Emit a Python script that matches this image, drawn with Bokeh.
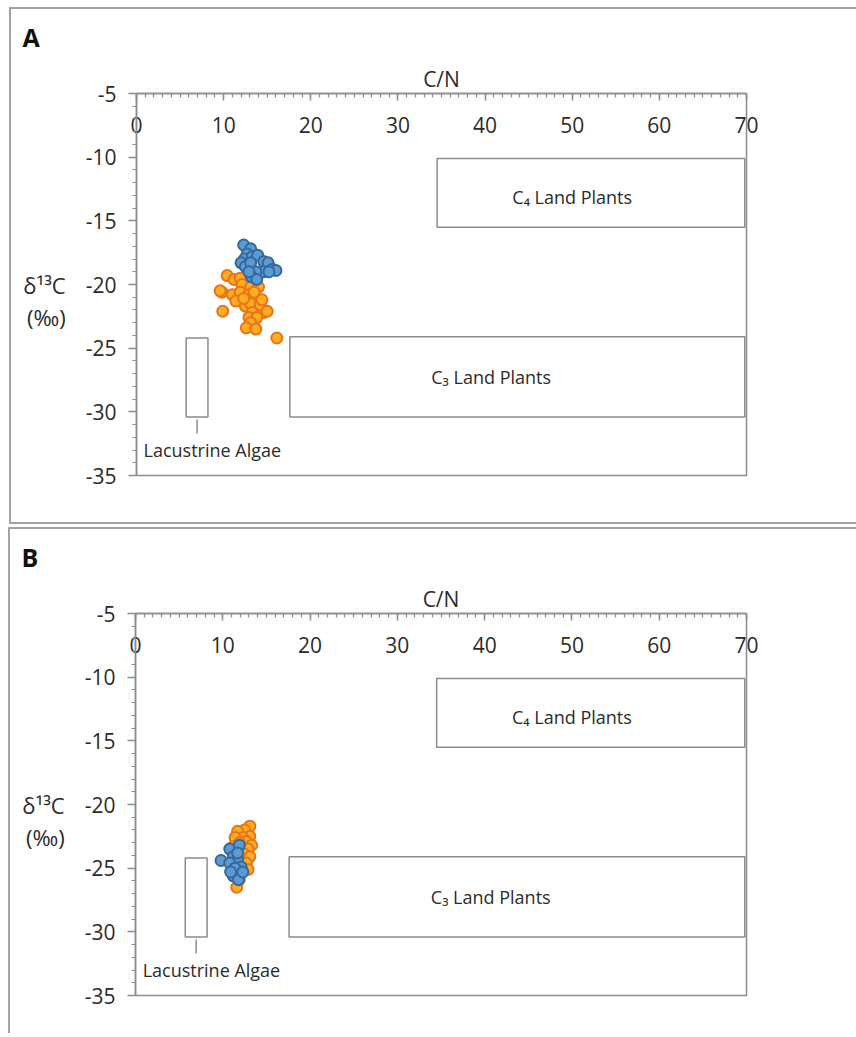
from bokeh.plotting import figure
from bokeh.models import Range1d, FixedTicker, PrintfTickFormatter
from bokeh.layouts import column
from bokeh.embed import file_html
from bokeh.resources import INLINE
from bokeh.core.properties import value

# ---------------- data ----------------
x_ticks = [0, 10, 20, 30, 40, 50, 60, 70]
y_ticks = [-35, -30, -25, -20, -15, -10, -5]
x_minor = list(range(0, 71))
y_minor = list(range(-35, -4))

# Panel A
a_orange_x = [10.4, 11.2, 11.9, 13.3, 12.1, 13.1, 14.0, 9.8, 11.0, 11.9, 12.9, 13.8, 11.4, 12.5,
              13.7, 14.6, 13.1, 14.2, 9.9, 13.3, 12.9, 13.8, 13.1, 12.6, 13.7, 16.1, 14.4, 12.3,
              15.0, 13.5, 9.6]
a_orange_y = [-19.3, -19.6, -19.5, -19.6, -20.0, -20.2, -20.2, -20.6, -20.8, -20.6, -20.8, -21.1,
              -21.3, -21.7, -21.9, -22.2, -21.5, -21.6, -22.1, -22.2, -22.6, -22.6, -23.0, -23.4,
              -23.5, -24.2, -21.2, -21.1, -22.1, -20.6, -20.5]
a_blue_x = [12.3, 13.1, 12.7, 12.4, 13.3, 13.9, 14.6, 15.1, 15.6, 16.0, 12.0, 12.5, 13.1, 14.6,
            15.2, 13.7, 13.2, 13.8, 12.9]
a_blue_y = [-16.9, -17.2, -17.6, -18.0, -17.8, -17.7, -18.2, -18.3, -18.8, -18.9, -18.3, -18.6,
            -18.3, -19.0, -19.0, -19.0, -19.4, -19.6, -19.0]

# Panel B
b_orange_x = [13.1, 12.5, 11.7, 13.1, 12.3, 11.4, 12.7, 13.3, 11.9, 12.9, 11.2, 12.5, 13.1, 12.7,
              12.3, 12.9, 11.6, 11.9]
b_orange_y = [-21.7, -22.0, -22.1, -22.5, -22.6, -22.6, -22.9, -23.2, -23.0, -23.5, -23.3, -23.9,
              -24.1, -24.6, -25.0, -25.1, -26.5, -25.9]
b_blue_x = [9.8, 10.8, 11.9, 11.2, 11.7, 12.1, 10.8, 11.4, 11.7, 11.2, 11.8, 12.3, 10.9]
b_blue_y = [-24.4, -23.5, -23.2, -24.1, -24.3, -24.9, -24.6, -25.0, -23.8, -25.6, -25.9, -25.3,
            -25.3]

# end-member boxes
box_names = ["C\u2084 Land Plants", "C\u2083 Land Plants", "Lacustrine Algae"]
box_left = [34.5, 17.6, 5.7]
box_right = [69.8, 69.8, 8.2]
box_top = [-10.1, -24.1, -24.2]
box_bottom = [-15.5, -30.4, -30.4]
name_x = [50.0, 40.7, 8.7]
name_y = [-13.1, -27.3, -33.0]
stem_x = [6.95]
stem_top = [-30.6]
stem_bottom = [-31.7]

FONT = "Open Sans"
AXIS_COLOR = "#8c8c8c"
TEXT_COLOR = "#2b2b2b"
BORDER = "2px solid #a7a19b"


def make_panel(letter, ox, oy, bx, by, width, height, mb_right, mb_bottom, styles):
    p = figure(width=width, height=height, output_backend="svg", toolbar_location=None,
               x_range=Range1d(0, 70), y_range=Range1d(-35, -5), x_axis_location="above",
               min_border_left=125, min_border_right=mb_right, min_border_top=83,
               min_border_bottom=mb_bottom, background_fill_color="white",
               border_fill_color="white", outline_line_color=AXIS_COLOR,
               outline_line_width=1.5, title=letter)
    p.styles = styles
    p.xgrid.visible = False
    p.ygrid.visible = False

    p.title.text_font = FONT
    p.title.text_font_size = "25px"
    p.title.text_font_style = "bold"
    p.title.text_color = "#111111"
    p.title.align = "left"
    p.title.offset = -114
    p.title.standoff = 16

    xa = p.xaxis[0]
    xa.ticker = FixedTicker(ticks=x_ticks, minor_ticks=x_minor)
    xa.major_tick_in = 7
    xa.major_tick_out = 0
    xa.minor_tick_in = 4
    xa.minor_tick_out = 0
    xa.major_label_standoff = -39
    xa.axis_label = "C/N"
    xa.axis_label_standoff = 21
    ya = p.yaxis[0]
    ya.ticker = FixedTicker(ticks=y_ticks, minor_ticks=y_minor)
    ya.major_tick_in = 0
    ya.major_tick_out = 8
    ya.minor_tick_in = 0
    ya.minor_tick_out = 4
    ya.major_label_standoff = 12
    ya.axis_label = "\u00a0\n\u03b4\u00b9\u00b3C\n(\u2030)"
    ya.axis_label_orientation = "horizontal"
    ya.axis_label_standoff = 17
    for ax in (xa, ya):
        ax.formatter = PrintfTickFormatter(format="%d")
        ax.axis_line_color = AXIS_COLOR
        ax.axis_line_width = 1.5
        ax.major_tick_line_color = AXIS_COLOR
        ax.major_tick_line_width = 1.5
        ax.minor_tick_line_color = AXIS_COLOR
        ax.minor_tick_line_width = 1.2
        ax.major_label_text_font = FONT
        ax.major_label_text_font_size = "21px"
        ax.major_label_text_color = TEXT_COLOR
        ax.axis_label_text_font = FONT
        ax.axis_label_text_font_size = "21px"
        ax.axis_label_text_font_style = "normal"
        ax.axis_label_text_color = TEXT_COLOR
    ya.axis_label_text_font_size = "22px"
    ya.axis_label_text_line_height = 1.07

    p.quad(left=box_left, right=box_right, top=box_top, bottom=box_bottom,
           fill_color=None, line_color=AXIS_COLOR, line_width=1.5)
    p.segment(x0=stem_x, y0=stem_top, x1=stem_x, y1=stem_bottom,
              line_color=AXIS_COLOR, line_width=1.5)
    p.text(x=name_x, y=name_y, text=box_names, text_align="center", text_baseline="middle",
           text_font=value(FONT), text_font_size="18px", text_color=TEXT_COLOR)

    p.scatter(ox, oy, size=11, fill_color="#FDAD1E", line_color="#E8741A", line_width=2)
    p.scatter(bx, by, size=11, fill_color="#5B9BD5", line_color="#36699A", line_width=2)
    return p


pA = make_panel("A", a_orange_x, a_orange_y, a_blue_x, a_blue_y, 847, 517, 111, 51,
                {"border": BORDER, "border-right": "none",
                 "margin-left": "9px", "margin-top": "7px"})
pB = make_panel("B", b_orange_x, b_orange_y, b_blue_x, b_blue_y, 848, 506, 112, 40,
                {"border": BORDER, "border-right": "none", "border-bottom": "none",
                 "margin-left": "8px"})

layout = column(pA, pB, spacing=3)
open("out.html", "w").write(file_html(layout, INLINE))
